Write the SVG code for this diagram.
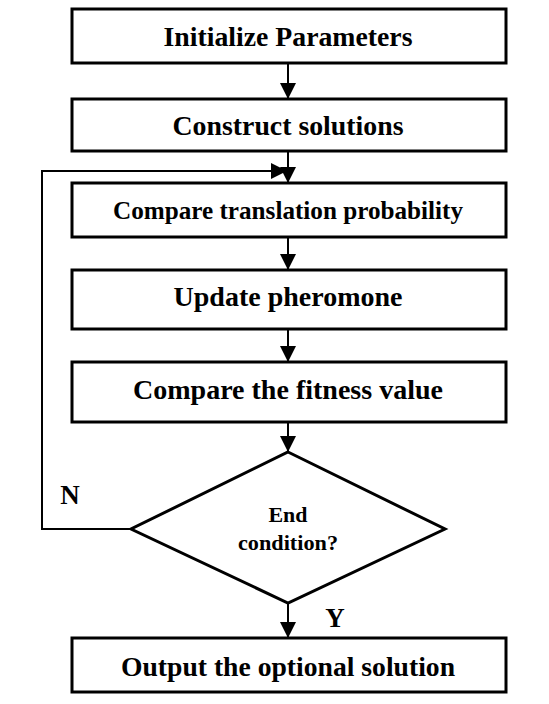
<svg xmlns="http://www.w3.org/2000/svg" width="549" height="704" viewBox="0 0 549 704">
<style>
.box{fill:#fff;stroke:#000;stroke-width:3}
.t{font-family:"Liberation Serif","Times New Roman",serif;font-weight:bold;fill:#000;text-anchor:middle}
.c{fill:none;stroke:#000;stroke-width:2}
</style>
<defs>
<marker id="ah2" markerWidth="16" markerHeight="16" refX="15" refY="8" orient="auto" markerUnits="userSpaceOnUse" viewBox="0 0 16 16">
<path d="M0,0 L16,8 L0,16 Z" fill="#000"/>
</marker>
</defs>
<rect width="549" height="704" fill="#fff"/>
<g id="connectors">
<line class="c" x1="288" y1="63" x2="288" y2="98" marker-end="url(#ah2)"/>
<line class="c" x1="288" y1="151" x2="288" y2="182" marker-end="url(#ah2)"/>
<line class="c" x1="288" y1="237" x2="288" y2="269" marker-end="url(#ah2)"/>
<line class="c" x1="288" y1="330" x2="288" y2="361" marker-end="url(#ah2)"/>
<line class="c" x1="288" y1="422" x2="288" y2="451" marker-end="url(#ah2)"/>
<line class="c" x1="288" y1="603" x2="288" y2="637" marker-end="url(#ah2)"/>
<polyline class="c" points="131,529 42,529 42,171 286,171" marker-end="url(#ah2)"/>
</g>
<g id="n1"><rect class="box" x="72" y="9" width="434" height="54"/><text class="t" x="288" y="46" font-size="28" textLength="249" lengthAdjust="spacingAndGlyphs">Initialize Parameters</text></g>
<g id="n2"><rect class="box" x="72" y="99" width="434" height="52"/><text class="t" x="288" y="135" font-size="28" textLength="231" lengthAdjust="spacingAndGlyphs">Construct solutions</text></g>
<g id="n3"><rect class="box" x="72" y="183" width="434" height="54"/><text class="t" x="288" y="219" font-size="25" textLength="350" lengthAdjust="spacingAndGlyphs">Compare translation probability</text></g>
<g id="n4"><rect class="box" x="72" y="270" width="434" height="59"/><text class="t" x="288" y="306" font-size="28" textLength="229" lengthAdjust="spacingAndGlyphs">Update pheromone</text></g>
<g id="n5"><rect class="box" x="72" y="362" width="434" height="60"/><text class="t" x="288" y="399" font-size="28" textLength="310" lengthAdjust="spacingAndGlyphs">Compare the fitness value</text></g>
<g id="n6"><polygon class="box" points="288,452 445,529 288,603 131,529"/><text class="t" x="288" y="522" font-size="22" textLength="39" lengthAdjust="spacingAndGlyphs">End</text><text class="t" x="288" y="550" font-size="22" textLength="100" lengthAdjust="spacingAndGlyphs">condition?</text></g>
<g id="n7"><rect class="box" x="72" y="638" width="434" height="54"/><text class="t" x="288" y="676" font-size="28" textLength="334" lengthAdjust="spacingAndGlyphs">Output the optional solution</text></g>
<text class="t" x="70" y="504" font-size="27">N</text>
<text class="t" x="335" y="627" font-size="27">Y</text>
</svg>
